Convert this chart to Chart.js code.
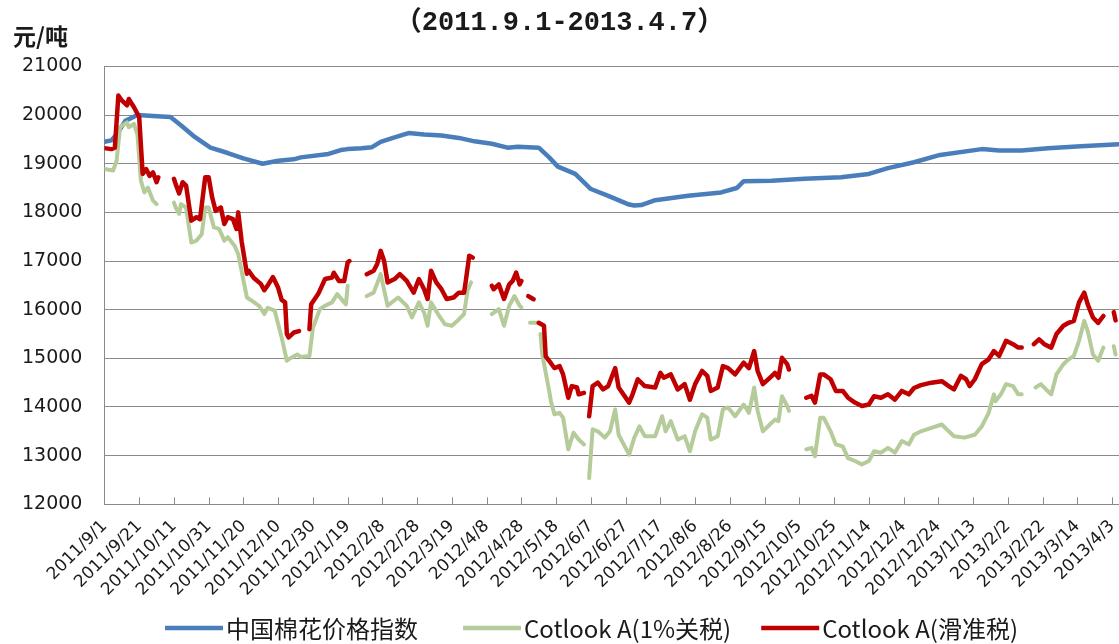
<!DOCTYPE html>
<html>
<head>
<meta charset="utf-8">
<script src="https://cdn.jsdelivr.net/npm/chart.js@4.4.1/dist/chart.umd.min.js"></script>
<style>
  html, body { margin: 0; background: #fff; }
  #wrap { width: 1119px; height: 644px; position: relative; }
</style>
</head>
<body>
<div id="wrap"><canvas id="c"></canvas></div>
<script>
// x = days since 2011/9/1, labels every 20 days
var tickLabels = ['2011/9/1','2011/9/21','2011/10/11','2011/10/31','2011/11/20','2011/12/10','2011/12/30',
  '2012/1/19','2012/2/8','2012/2/28','2012/3/19','2012/4/8','2012/4/28','2012/5/18','2012/6/7','2012/6/27',
  '2012/7/17','2012/8/6','2012/8/26','2012/9/15','2012/10/5','2012/10/25','2012/11/14','2012/12/4',
  '2012/12/24','2013/1/13','2013/2/2','2013/2/22','2013/3/14','2013/4/3'];
var tickStep = 20;
var lastDay = 584;
var yTicks = [12000, 13000, 14000, 15000, 16000, 17000, 18000, 19000, 20000, 21000];

var seriesNames = ['中国棉花价格指数', 'Cotlook A(1%关税)', 'Cotlook A(滑准税)'];
var seriesColors = ['#4a7ebb', '#b5cc9a', '#c00000'];
var titleText = '（2011.9.1-2013.4.7）';
var unitLabel = '元/吨';

// [day, price], null = no quote
var cnIndex = [[0,19450],[4,19480],[8,19650],[12,19880],[19,20000],[28,19980],[38,19960],[44,19790],[52,19550],
  [61,19330],[71,19220],[80,19110],[91,19000],[100,19060],[109,19090],[113,19130],[129,19200],[136,19280],
  [140,19300],[148,19320],[154,19340],[159,19450],[167,19540],[175,19630],[184,19600],[194,19580],[204,19530],
  [213,19460],[223,19410],[232,19330],[238,19350],[250,19330],[256,19130],[261,18940],[271,18790],[280,18480],
  [290,18340],[302,18160],[305,18140],[309,18150],[317,18250],[336,18340],[355,18410],[364,18500],[368,18640],
  [384,18650],[403,18690],[424,18720],[440,18790],[451,18910],[466,19030],[481,19180],[505,19300],[515,19270],
  [528,19270],[543,19320],[562,19360],[584,19400]];

var cotlook1pct = [[0,18890],[5,18860],[7,19060],[9,19750],[13,19850],[14,19750],[17,19820],[19,19600],[21,18650],
  [23,18410],[25,18510],[28,18240],[30,18170],[35,null],
  [40,18200],[41,18100],[43,17970],[44,18170],[47,18100],[50,17380],[53,17420],[56,17550],[58,18100],[60,18100],
  [63,17690],[66,17660],[69,17420],[71,17490],[75,17310],[77,17140],[82,16250],[85,16180],[89,16080],[92,15910],
  [94,16040],[98,15980],[102,15430],[105,14950],[106,14980],[111,15080],[113,15030],[118,15050],[120,15630],
  [124,16010],[127,16080],[131,16150],[134,16320],[138,16150],[139,16110],[140,16490],[146,null],
  [151,16280],[155,16350],[159,16730],[163,16080],[169,16250],[174,16080],[177,15840],[181,16150],[184,15940],
  [186,15670],[188,16150],[192,15910],[196,15700],[200,15670],[204,15800],[207,15910],[209,16390],[211,16560],[218,null],
  [223,15910],[227,16010],[230,15670],[233,16080],[236,16280],[239,16080],[240,16050],[242,null],
  [245,15730],[249,15730],[249.5,null],
  [251,15500],[252,15080],[256,14330],[257,14120],[259,13850],[262,13880],[264,13780],[267,13130],[270,13470],
  [273,13330],[276,13230],[277,null],
  [279,12540],[281,13540],[284,13500],[288,13370],[291,13500],[294,13950],[296,13430],[302,13020],[305,13370],
  [308,13600],[311,13400],[317,13400],[321,13810],[323,13500],[326,13710],[330,13330],[334,13400],[337,13090],
  [340,13500],[344,13850],[347,13780],[349,13330],[353,13400],[356,13950],[359,13990],[363,13810],[368,14050],
  [371,13880],[374,14400],[376,13920],[379,13500],[383,13640],[386,13740],[388,13710],[390,14220],[393,14020],
  [394,13920],[399,null],
  [404,13130],[407,13160],[409,12990],[412,13780],[414,13780],[418,13500],[421,13230],[425,13190],[428,12950],
  [432,12890],[436,12820],[440,12890],[443,13090],[447,13060],[451,13160],[455,13060],[459,13300],[463,13230],
  [466,13430],[470,13500],[476,13570],[482,13640],[486,13500],[489,13400],[495,13370],[501,13430],[505,13600],
  [509,13880],[512,14260],[513,14120],[516,14260],[519,14470],[523,14430],[526,14260],[528,14260],[531,null],
  [536,14400],[539,14470],[542,14360],[545,14260],[548,14670],[552,14880],[555,14980],[558,15050],[561,15360],
  [564,15770],[566,15560],[569,15080],[572,14950],[575,15220],[578,null],
  [581,15250],[582,15080]];

var cotlookSliding = [[0,19320],[4,19300],[6,19330],[8,20400],[10,20300],[13,20200],[14,20330],[17,20160],[20,19960],
  [22,18790],[24,18890],[26,18750],[28,18820],[30,18620],[31,18720],[35,null],
  [40,18690],[41,18580],[43,18390],[45,18620],[47,18550],[50,17830],[53,17900],[55,17860],[58,18720],[60,18720],
  [62,18310],[64,18030],[67,18100],[69,17760],[71,17900],[74,17860],[76,17660],[77,18000],[79,17400],[82,16740],
  [83,16800],[86,16650],[90,16530],[92,16400],[94,16500],[97,16670],[100,16450],[102,16200],[104,16150],
  [105,15500],[106,15430],[109,15530],[112,15560],[115,null],
  [118,15600],[119,16110],[123,16320],[127,16630],[131,16660],[132,16760],[135,16590],[138,16590],[140,16970],
  [141,17000],[146,null],
  [151,16730],[155,16800],[157,16940],[159,17210],[161,17000],[163,16560],[167,16630],[170,16730],[174,16590],
  [178,16350],[181,16630],[184,16420],[186,16220],[188,16800],[191,16560],[194,16420],[197,16220],[201,16250],
  [204,16350],[207,16350],[208,16590],[210,17110],[212,17070],[218,null],
  [223,16490],[224,16420],[227,16520],[230,16220],[233,16520],[235,16590],[237,16760],[239,16520],[240,16590],[242,null],
  [244,16280],[247,16215],[248,null],
  [250,15730],[253,15670],[254,15040],[257,14900],[259,14800],[262,14840],[264,14670],[267,14190],[269,14430],
  [272,14400],[273,14260],[276,14290],[277,null],
  [279,13810],[281,14430],[284,14500],[287,14360],[290,14430],[294,14800],[296,14400],[302,14090],[304,14260],
  [307,14570],[311,14430],[317,14400],[320,14700],[322,14600],[326,14670],[330,14360],[334,14470],[337,14150],
  [340,14470],[344,14740],[347,14640],[349,14330],[353,14400],[356,14840],[359,14800],[363,14670],[368,14910],
  [371,14800],[374,15150],[376,14740],[379,14470],[383,14600],[386,14700],[388,14600],[390,15010],[393,14880],
  [394,14770],[399,null],
  [404,14190],[407,14230],[409,14090],[412,14670],[414,14670],[418,14570],[421,14330],[425,14330],[428,14190],
  [432,14090],[436,14020],[440,14050],[443,14220],[447,14190],[451,14260],[455,14150],[459,14330],[463,14260],
  [466,14390],[470,14450],[476,14500],[482,14530],[486,14430],[489,14360],[493,14640],[496,14570],[498,14430],
  [501,14570],[505,14880],[509,14980],[512,15150],[515,15050],[519,15360],[523,15290],[526,15220],[528,15220],[531,null],
  [535,15290],[538,15390],[541,15290],[545,15220],[548,15500],[552,15670],[555,15730],[558,15770],[561,16150],
  [564,16350],[566,16110],[569,15840],[572,15730],[575,15870],[578,null],
  [581,15950],[582,15780]];

var axisColor = '#8a8a8a';
var textColor = '#1a1a1a';
var legendFont = '24px "Noto Sans CJK SC"';

function toPoints(arr) {
  return arr.map(function (p) { return { x: p[0], y: p[1] }; });
}

function lineSet(i, arr, width, order) {
  return {
    label: seriesNames[i],
    data: toPoints(arr),
    borderColor: seriesColors[i],
    backgroundColor: seriesColors[i],
    borderWidth: width,
    pointRadius: 0,
    tension: 0,
    spanGaps: false,
    borderJoinStyle: 'round',
    borderCapStyle: 'round',
    order: order
  };
}

// unit label, inside tick marks and the legend row
var extras = {
  id: 'extras',
  afterDraw: function (chart) {
    var ctx = chart.ctx, xs = chart.scales.x, area = chart.chartArea;
    ctx.save();
    ctx.strokeStyle = axisColor;
    ctx.lineWidth = 1;
    xs.ticks.forEach(function (t) {
      var px = Math.round(xs.getPixelForValue(t.value)) + 0.5;
      ctx.beginPath();
      ctx.moveTo(px, area.bottom);
      ctx.lineTo(px, area.bottom - 7);
      ctx.stroke();
    });

    ctx.fillStyle = textColor;
    ctx.font = 'bold 23px "Noto Sans CJK SC"';
    ctx.textBaseline = 'middle';
    ctx.textAlign = 'left';
    ctx.fillText(unitLabel, 13, area.top - 30);

    // legend
    var lineLen = 58, gap = 3, itemGaps = [45, 30], y = chart.height - 16;
    ctx.font = legendFont;
    var x = 165;
    seriesNames.forEach(function (n, i) {
      ctx.strokeStyle = seriesColors[i];
      ctx.lineWidth = 4.5;
      ctx.lineCap = 'butt';
      ctx.beginPath();
      ctx.moveTo(x, y);
      ctx.lineTo(x + lineLen, y);
      ctx.stroke();
      ctx.fillStyle = textColor;
      ctx.fillText(n, x + lineLen + gap, y + 1);
      x += lineLen + gap + ctx.measureText(n).width + (itemGaps[i] || 0);
    });
    ctx.restore();
  }
};

new Chart(document.getElementById('c'), {
  type: 'line',
  data: {
    datasets: [
      lineSet(0, cnIndex, 4.5, 3),
      lineSet(1, cotlook1pct, 4, 2),
      lineSet(2, cotlookSliding, 4.5, 1)
    ]
  },
  options: {
    responsive: true,
    maintainAspectRatio: false,
    animation: false,
    layout: { padding: { left: 0, right: 0, top: 0, bottom: 40 } },
    plugins: {
      title: {
        display: true,
        text: titleText,
        color: textColor,
        font: { family: '"Liberation Mono", "Noto Sans CJK SC"', size: 27, weight: 'bold' },
        padding: { top: 7, bottom: 27 }
      },
      legend: { display: false },
      tooltip: { enabled: false }
    },
    scales: {
      x: {
        type: 'linear',
        min: 0,
        max: lastDay,
        grid: { display: false },
        border: { display: true, color: axisColor, width: 1 },
        afterBuildTicks: function (scale) {
          scale.ticks = tickLabels.map(function (l, i) { return { value: i * tickStep }; });
        },
        afterFit: function (scale) { scale.paddingRight = 0; },
        ticks: {
          autoSkip: false,
          minRotation: 45,
          maxRotation: 45,
          padding: 4,
          color: textColor,
          font: { family: '"DejaVu Sans"', size: 17 },
          callback: function (v) { return tickLabels[Math.round(v / tickStep)]; }
        }
      },
      y: {
        min: yTicks[0],
        max: yTicks[yTicks.length - 1],
        afterBuildTicks: function (scale) {
          scale.ticks = yTicks.map(function (v) { return { value: v }; });
        },
        grid: { color: axisColor, lineWidth: 1, drawTicks: false },
        border: { display: true, color: axisColor, width: 1 },
        ticks: {
          padding: 22,
          color: textColor,
          font: { family: '"DejaVu Sans"', size: 19 },
          callback: function (v) { return String(v); }
        }
      }
    }
  },
  plugins: [extras]
});
</script>
</body>
</html>
